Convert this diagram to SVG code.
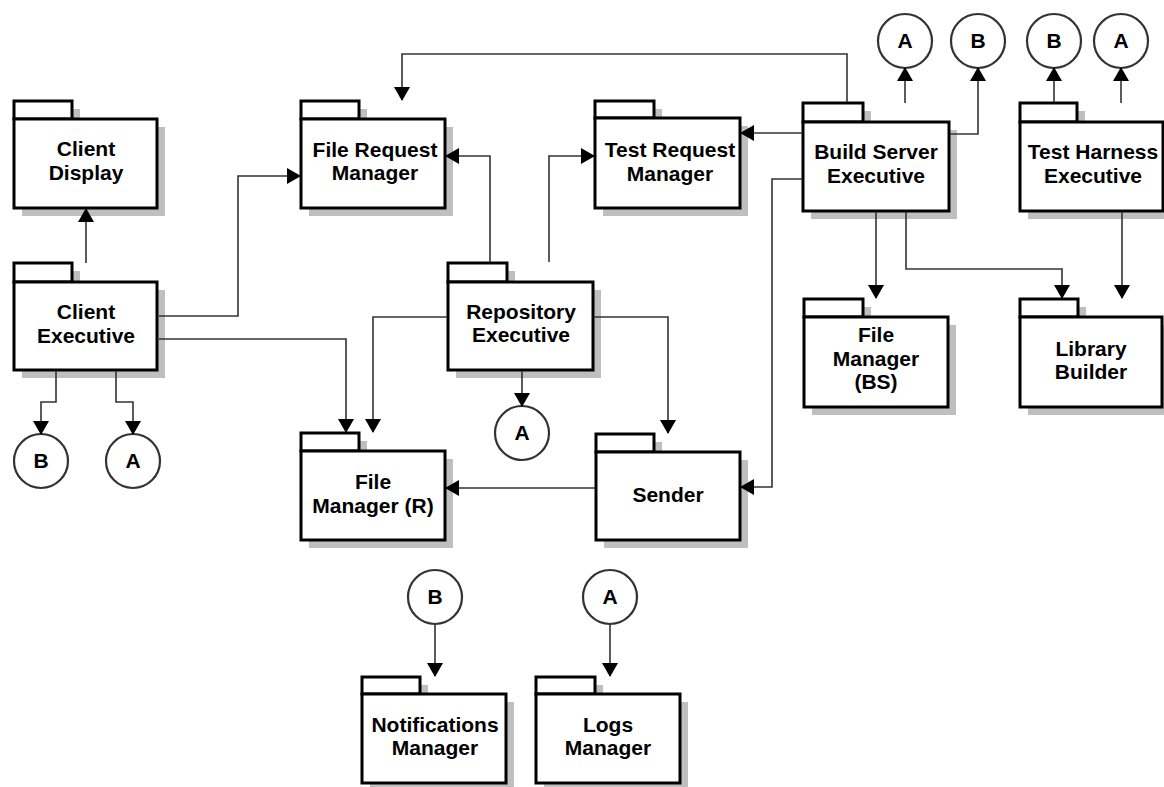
<svg xmlns="http://www.w3.org/2000/svg" width="1164" height="787" viewBox="0 0 1164 787">
<defs>
<style>
.sh{fill:#bfbfbf}
.bx{fill:#fff;stroke:#000;stroke-width:3}
.t{font-family:"Liberation Sans",Arial,sans-serif;font-weight:bold;font-size:21px;fill:#000;text-anchor:middle}
.c{fill:#fff;stroke:#333;stroke-width:2.2}
.ln{fill:none;stroke:#333;stroke-width:1.6}
</style>
<marker id="ah" markerUnits="userSpaceOnUse" viewBox="0 0 14 16" markerWidth="14" markerHeight="16" refX="13" refY="8" orient="auto" overflow="visible">
<path d="M0,0 L14,8 L0,16 Z" fill="#000"/>
</marker>
</defs>
<rect width="1164" height="787" fill="#fff"/>

<g id="client-display">
<rect class="sh" x="22" y="109" width="58" height="18"/><rect class="sh" x="22" y="127" width="143" height="89"/>
<rect class="bx" x="14" y="101" width="58" height="18"/><rect class="bx" x="14" y="119" width="143" height="89"/>
<text class="t" x="86" y="156">Client</text><text class="t" x="86" y="180">Display</text>
</g>
<g id="client-executive">
<rect class="sh" x="22" y="271" width="58" height="19"/><rect class="sh" x="22" y="290" width="143" height="88"/>
<rect class="bx" x="14" y="263" width="58" height="19"/><rect class="bx" x="14" y="282" width="143" height="88"/>
<text class="t" x="86" y="319">Client</text><text class="t" x="86" y="343">Executive</text>
</g>
<g id="file-request-manager">
<rect class="sh" x="309" y="109" width="58" height="18"/><rect class="sh" x="309" y="127" width="144" height="89"/>
<rect class="bx" x="301" y="101" width="58" height="18"/><rect class="bx" x="301" y="119" width="144" height="89"/>
<text class="t" x="375" y="157">File Request</text><text class="t" x="375" y="180">Manager</text>
</g>
<g id="test-request-manager">
<rect class="sh" x="603" y="109" width="59" height="17"/><rect class="sh" x="603" y="126" width="145" height="90"/>
<rect class="bx" x="595" y="101" width="59" height="17"/><rect class="bx" x="595" y="118" width="145" height="90"/>
<text class="t" x="670" y="157">Test Request</text><text class="t" x="670" y="181">Manager</text>
</g>
<g id="build-server-executive">
<rect class="sh" x="811" y="111" width="60" height="19"/><rect class="sh" x="811" y="130" width="146" height="89"/>
<rect class="bx" x="803" y="103" width="60" height="19"/><rect class="bx" x="803" y="122" width="146" height="89"/>
<text class="t" x="876" y="159">Build Server</text><text class="t" x="876" y="183">Executive</text>
</g>
<g id="test-harness-executive">
<rect class="sh" x="1028" y="111" width="57" height="19"/><rect class="sh" x="1028" y="130" width="143" height="89"/>
<rect class="bx" x="1020" y="103" width="57" height="19"/><rect class="bx" x="1020" y="122" width="143" height="89"/>
<text class="t" x="1093" y="159">Test Harness</text><text class="t" x="1093" y="183">Executive</text>
</g>
<g id="repository-executive">
<rect class="sh" x="456" y="271" width="59" height="19"/><rect class="sh" x="456" y="290" width="145" height="88"/>
<rect class="bx" x="448" y="263" width="59" height="19"/><rect class="bx" x="448" y="282" width="145" height="88"/>
<text class="t" x="521" y="319">Repository</text><text class="t" x="521" y="342">Executive</text>
</g>
<g id="file-manager-bs">
<rect class="sh" x="812" y="307" width="59" height="18"/><rect class="sh" x="812" y="325" width="144" height="90"/>
<rect class="bx" x="804" y="299" width="59" height="18"/><rect class="bx" x="804" y="317" width="144" height="90"/>
<text class="t" x="876" y="342">File</text><text class="t" x="876" y="366">Manager</text><text class="t" x="876" y="389">(BS)</text>
</g>
<g id="library-builder">
<rect class="sh" x="1028" y="307" width="58" height="18"/><rect class="sh" x="1028" y="325" width="142" height="90"/>
<rect class="bx" x="1020" y="299" width="58" height="18"/><rect class="bx" x="1020" y="317" width="142" height="90"/>
<text class="t" x="1091" y="356">Library</text><text class="t" x="1091" y="379">Builder</text>
</g>
<g id="file-manager-r">
<rect class="sh" x="309" y="441" width="58" height="18"/><rect class="sh" x="309" y="459" width="144" height="89"/>
<rect class="bx" x="301" y="433" width="58" height="18"/><rect class="bx" x="301" y="451" width="144" height="89"/>
<text class="t" x="373" y="489">File</text><text class="t" x="373" y="513">Manager (R)</text>
</g>
<g id="sender">
<rect class="sh" x="604" y="442" width="58" height="18"/><rect class="sh" x="604" y="460" width="144" height="88"/>
<rect class="bx" x="596" y="434" width="58" height="18"/><rect class="bx" x="596" y="452" width="144" height="88"/>
<text class="t" x="668" y="502">Sender</text>
</g>
<g id="notifications-manager">
<rect class="sh" x="370" y="685" width="58" height="17"/><rect class="sh" x="370" y="702" width="144" height="89"/>
<rect class="bx" x="362" y="677" width="58" height="17"/><rect class="bx" x="362" y="694" width="144" height="89"/>
<text class="t" x="435" y="732">Notifications</text><text class="t" x="435" y="755">Manager</text>
</g>
<g id="logs-manager">
<rect class="sh" x="544" y="685" width="59" height="17"/><rect class="sh" x="544" y="702" width="144" height="89"/>
<rect class="bx" x="536" y="677" width="59" height="17"/><rect class="bx" x="536" y="694" width="144" height="89"/>
<text class="t" x="608" y="732">Logs</text><text class="t" x="608" y="755">Manager</text>
</g>

<g id="conn-b-client"><circle class="c" cx="41" cy="461" r="27"/><text class="t" x="41" y="468">B</text></g>
<g id="conn-a-client"><circle class="c" cx="133" cy="461" r="27"/><text class="t" x="133" y="468">A</text></g>
<g id="conn-a-repo"><circle class="c" cx="522" cy="433" r="27"/><text class="t" x="522" y="440">A</text></g>
<g id="conn-a-bs"><circle class="c" cx="905" cy="41" r="27"/><text class="t" x="905" y="48">A</text></g>
<g id="conn-b-bs"><circle class="c" cx="978" cy="41" r="27"/><text class="t" x="978" y="48">B</text></g>
<g id="conn-b-th"><circle class="c" cx="1054" cy="41" r="27"/><text class="t" x="1054" y="48">B</text></g>
<g id="conn-a-th"><circle class="c" cx="1121" cy="41" r="27"/><text class="t" x="1121" y="48">A</text></g>
<g id="conn-b-notif"><circle class="c" cx="435" cy="597" r="27"/><text class="t" x="435" y="604">B</text></g>
<g id="conn-a-logs"><circle class="c" cx="610" cy="597" r="27"/><text class="t" x="610" y="604">A</text></g>

<g id="connectors" class="ln" marker-end="url(#ah)">
<polyline points="86,263 86,209"/>
<polyline points="159,316 238,316 238,176 300,176"/>
<polyline points="159,339 346,339 346,432"/>
<polyline points="56,371 56,402 41,402 41,434"/>
<polyline points="116,371 116,402 133,402 133,434"/>
<polyline points="847,102 847,54 402,54 402,100"/>
<polyline points="490,262 490,156 446,156"/>
<polyline points="549,262 549,156 594,156"/>
<polyline points="802,133 741,133"/>
<polyline points="802,179 772,179 772,487 741,487"/>
<polyline points="447,317 373,317 373,432"/>
<polyline points="522,371 522,406"/>
<polyline points="594,317 668,317 668,433"/>
<polyline points="595,488 446,488"/>
<polyline points="876,212 876,298"/>
<polyline points="906,212 906,269 1062,269 1062,298"/>
<polyline points="1122,212 1122,298"/>
<polyline points="905,103 905,68"/>
<polyline points="950,134 978,134 978,68"/>
<polyline points="1054,102 1054,68"/>
<polyline points="1121,103 1121,68"/>
<polyline points="435,624 435,676"/>
<polyline points="610,624 610,676"/>
</g>
</svg>
